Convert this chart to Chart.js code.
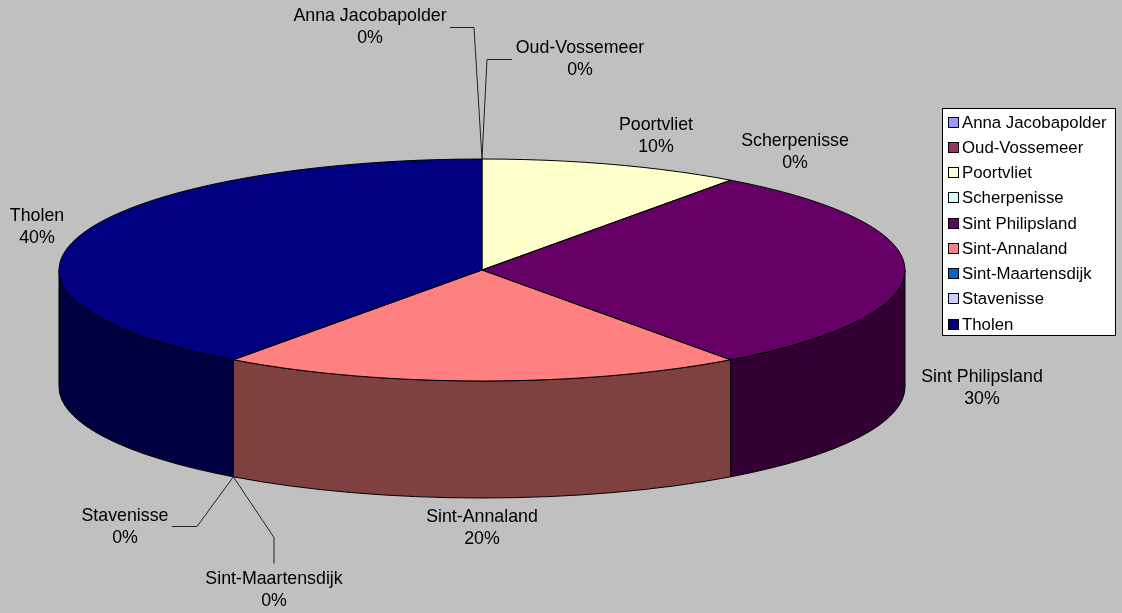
<!DOCTYPE html>
<html>
<head>
<meta charset="utf-8">
<script src="https://cdn.jsdelivr.net/npm/chart.js@4.4.0/dist/chart.umd.min.js"></script>
<style>
html, body { margin: 0; padding: 0; background: #c0c0c0; }
canvas { display: block; }
</style>
</head>
<body>
<canvas id="pie" width="1122" height="613"></canvas>
<script>
// data
const places = ["Anna Jacobapolder", "Oud-Vossemeer", "Poortvliet", "Scherpenisse", "Sint Philipsland",
    "Sint-Annaland", "Sint-Maartensdijk", "Stavenisse", "Tholen"];
const shares = [0, 0, 10, 0, 30, 20, 0, 0, 40];
const colors = ["#9999ff", "#993366", "#ffffcc", "#ccffff", "#660066", "#ff8080", "#0066cc", "#ccccff", "#000080"];

// layout of the flattened pie
const CX = 482, CY = 270, RX = 423, RY = 111, DEPTH = 117;
const LABEL_FONT = "17.8px 'Liberation Sans', Arial, sans-serif";
const LEGEND_FONT = "16.8px 'Liberation Sans', Arial, sans-serif";
// label centres (middle of the two lines)
const labelPos = [[370, 27], [580, 59], [656, 136], [795, 152], [982, 388],
    [482, 528], [274, 590], [125, 527], [37, 227]];
// leader lines: start at label, elbow, then to slice
const leaders = { 0: [450, 27, 474, 27], 1: [512, 59, 487, 59], 6: [274, 563, 274, 537], 7: [172, 526, 197, 526] };
const legendBox = { x: 942, y: 108, w: 173, h: 227, first: 122, step: 25.25, sw: 11, swX: 948, textX: 962 };

function darken(hex) {
    const n = parseInt(hex.slice(1), 16);
    const r = (n >> 16) >> 1, g = ((n >> 8) & 255) >> 1, b = (n & 255) >> 1;
    return `rgb(${r},${g},${b})`;
}

const total = shares.reduce((a, b) => a + b, 0);

const pie3d = {
    id: "pie3d",
    beforeDatasetsDraw(chart) {
        const ctx = chart.ctx;
        const arcs = chart.getDatasetMeta(0).data;
        // outer walls of the front half
        arcs.forEach((arc, i) => {
            const a = Math.max(arc.startAngle, 0);
            const b = Math.min(arc.endAngle, Math.PI);
            if (b <= a) return;
            ctx.beginPath();
            ctx.ellipse(CX, CY, RX, RY, 0, a, b);
            ctx.lineTo(CX + RX * Math.cos(b), CY + DEPTH + RY * Math.sin(b));
            ctx.ellipse(CX, CY + DEPTH, RX, RY, 0, b, a, true);
            ctx.closePath();
            ctx.fillStyle = darken(colors[i]);
            ctx.fill();
            ctx.strokeStyle = "#000";
            ctx.lineWidth = 1;
            ctx.stroke();
        });
        // squash the library's circle into the top ellipse
        const first = arcs[0];
        const r = first.outerRadius;
        ctx.save();
        ctx.translate(CX, CY);
        ctx.scale(RX / r, RY / r);
        ctx.translate(-first.x, -first.y);
    },
    afterDatasetsDraw(chart) {
        const ctx = chart.ctx;
        ctx.restore();
        const arcs = chart.getDatasetMeta(0).data;

        // outline of the top
        ctx.strokeStyle = "#000";
        ctx.lineWidth = 1;
        ctx.beginPath();
        ctx.ellipse(CX, CY, RX, RY, 0, 0, 2 * Math.PI);
        arcs.forEach(arc => {
            if (arc.endAngle - arc.startAngle <= 0) return;
            [arc.startAngle, arc.endAngle].forEach(t => {
                ctx.moveTo(CX, CY);
                ctx.lineTo(CX + RX * Math.cos(t), CY + RY * Math.sin(t));
            });
        });
        ctx.stroke();

        // data labels
        ctx.font = LABEL_FONT;
        ctx.textAlign = "center";
        ctx.textBaseline = "middle";
        ctx.fillStyle = "#000";
        places.forEach((name, i) => {
            const [lx, ly] = labelPos[i];
            const pct = Math.round(shares[i] / total * 100) + "%";
            ctx.fillText(name, lx, ly - 11);
            ctx.fillText(pct, lx, ly + 11.5);

            const ld = leaders[i];
            if (!ld) return;
            const arc = arcs[i];
            const t = (arc.startAngle + arc.endAngle) / 2;
            const front = Math.sin(t) > 0.01;
            const ax = CX + RX * Math.cos(t);
            const ay = CY + RY * Math.sin(t) + (front ? DEPTH : 0);
            ctx.beginPath();
            ctx.moveTo(ld[0], ld[1] + 0.5);
            ctx.lineTo(ld[2], ld[3] + 0.5);
            ctx.lineTo(ax, ay);
            ctx.strokeStyle = "#222";
            ctx.stroke();
        });

        // legend
        const L = legendBox;
        ctx.fillStyle = "#fff";
        ctx.fillRect(L.x, L.y, L.w, L.h);
        ctx.strokeStyle = "#000";
        ctx.strokeRect(L.x + 0.5, L.y + 0.5, L.w, L.h);
        ctx.font = LEGEND_FONT;
        ctx.textAlign = "left";
        places.forEach((name, i) => {
            const y = L.first + i * L.step;
            const top = Math.round(y - L.sw / 2);
            ctx.fillStyle = colors[i];
            ctx.fillRect(L.swX, top, L.sw, L.sw);
            ctx.strokeStyle = "#000";
            ctx.strokeRect(L.swX + 0.5, top + 0.5, L.sw - 1, L.sw - 1);
            ctx.fillStyle = "#000";
            ctx.fillText(name, L.textX, y + 1);
        });
    }
};

new Chart(document.getElementById("pie"), {
    type: "pie",
    data: {
        labels: places,
        datasets: [{
            data: shares,
            backgroundColor: colors,
            borderWidth: 0,
            clip: false
        }]
    },
    options: {
        responsive: false,
        animation: false,
        devicePixelRatio: 1,
        events: [],
        plugins: {
            legend: { display: false },
            tooltip: { enabled: false }
        }
    },
    plugins: [pie3d]
});
</script>
</body>
</html>
